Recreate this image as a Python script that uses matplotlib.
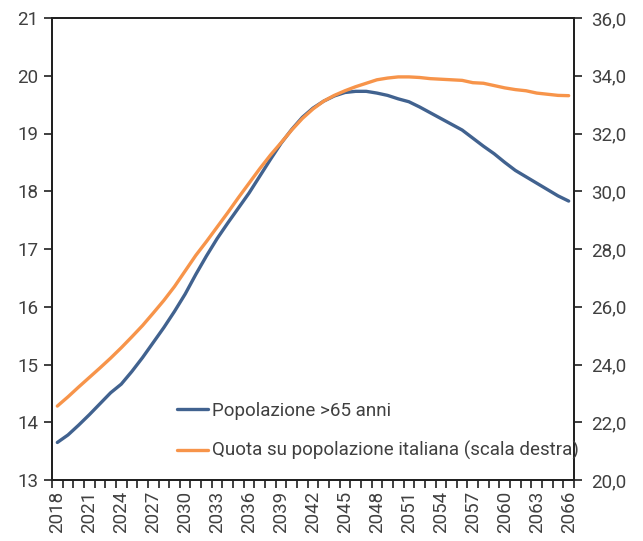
import matplotlib
matplotlib.use("Agg")
import matplotlib.pyplot as plt
from matplotlib.ticker import FuncFormatter, MultipleLocator

plt.rcParams["font.family"] = ["Roboto", "DejaVu Sans"]

# Dati: popolazione >65 anni (mln, scala sinistra) e quota % (scala destra)
years = list(range(2018, 2067))
pop_65 = [13.65, 13.78, 13.95, 14.13, 14.32, 14.51, 14.66, 14.88, 15.12, 15.38,
          15.64, 15.92, 16.22, 16.56, 16.88, 17.18, 17.45, 17.71, 17.97, 18.26,
          18.55, 18.83, 19.07, 19.28, 19.44, 19.56, 19.65, 19.71, 19.73, 19.73,
          19.70, 19.66, 19.60, 19.55, 19.46, 19.36, 19.26, 19.16, 19.06, 18.92,
          18.78, 18.65, 18.50, 18.36, 18.25, 18.14, 18.03, 17.92, 17.83]
quota = [22.56, 22.88, 23.22, 23.55, 23.88, 24.22, 24.58, 24.96, 25.35, 25.78,
         26.22, 26.70, 27.24, 27.78, 28.26, 28.76, 29.26, 29.78, 30.28, 30.78,
         31.25, 31.68, 32.12, 32.52, 32.85, 33.12, 33.32, 33.48, 33.62, 33.74,
         33.86, 33.92, 33.96, 33.96, 33.94, 33.90, 33.88, 33.86, 33.84, 33.76,
         33.74, 33.66, 33.58, 33.52, 33.48, 33.40, 33.36, 33.32, 33.31]
label_years = years[::3]

text_col = "#404040"
fs = 13.5

fig = plt.figure(figsize=(6.43, 5.41), dpi=100)
ax = fig.add_axes([52 / 643, 1 - 480 / 541, (574 - 52) / 643, (480 - 18) / 541])
ax2 = ax.twinx()

l1, = ax.plot(years, pop_65, color="#41628F", lw=2.4, solid_capstyle="round",
              label="Popolazione >65 anni")
l2, = ax2.plot(years, quota, color="#F7944A", lw=2.4, solid_capstyle="round",
               label="Quota su popolazione italiana (scala destra)")

ax.set_xlim(2017.5, 2066.5)
ax.set_ylim(13, 21)
ax2.set_ylim(20, 36)
ax.yaxis.set_major_locator(MultipleLocator(1))
ax2.yaxis.set_major_locator(MultipleLocator(2))
ax2.yaxis.set_major_formatter(FuncFormatter(lambda v, p: f"{v:.1f}".replace(".", ",")))

ax.set_xticks(label_years)
ax.set_xticklabels([str(y) for y in label_years], rotation=90)
ax.set_xticks([y - 0.5 for y in years] + [2066.5], minor=True)
ax.tick_params(axis="x", which="major", length=0, pad=8, labelsize=fs, labelcolor=text_col)
ax.tick_params(axis="x", which="minor", length=6, width=1.2, color="#202020")
ax.tick_params(axis="y", length=6, width=1.2, color="#202020", labelsize=fs,
               labelcolor=text_col, pad=4)
ax2.tick_params(axis="y", length=6, width=1.2, color="#202020", labelsize=fs,
                labelcolor=text_col, pad=6)

for a in (ax, ax2):
    for s in a.spines.values():
        s.set_linewidth(1.3)
        s.set_color("#202020")

leg = fig.legend([l1, l2], [l1.get_label(), l2.get_label()],
                 loc="lower left", bbox_to_anchor=(170 / 643, 1 - 468 / 541),
                 frameon=False, fontsize=13.5, handlelength=1.65, handletextpad=0.2,
                 labelspacing=1.15, borderaxespad=0)
for t in leg.get_texts():
    t.set_color(text_col)

fig.savefig("out.png", dpi=100)
